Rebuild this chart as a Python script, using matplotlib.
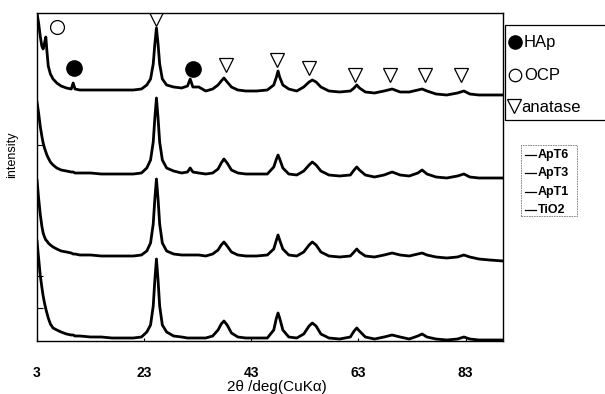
import matplotlib
matplotlib.use("Agg")
import matplotlib.pyplot as plt
from matplotlib.lines import Line2D
from matplotlib.patches import Rectangle

# 2theta grid (deg)
two_theta = [
    3.0, 3.3, 3.6, 3.9, 4.15, 4.4, 4.65, 4.85, 5.1, 5.5,
    6.0, 6.7, 7.5, 8.5, 9.4, 9.75, 10.1, 11, 13, 15,
    17, 19, 21, 22.5, 23.5, 24.2, 24.7, 25.0, 25.3, 25.6,
    25.9, 26.4, 27.2, 28.5, 30, 31.1, 31.6, 32.1, 33.2, 34.5,
    35.8, 36.8, 37.4, 37.9, 38.5, 39.3, 40.5, 42, 44, 46,
    47.2, 47.7, 48.0, 48.3, 48.9, 50, 51.5, 52.8, 53.8, 54.4,
    55.1, 56, 57.5, 59.5, 61.5, 62.2, 62.7, 63.2, 64.3, 66,
    67.8, 69.3, 70.8, 72.5, 74.1, 74.9, 75.8, 77.5, 79.5, 81.5,
    82.7, 83.8, 85.5, 87.5, 90,
]

# stacked intensities (arb. units, offsets included)
apt6 = [
    328, 318, 305, 295, 292, 298, 304, 290, 275, 267,
    262, 258, 255, 253, 252, 258, 252, 251, 251, 251,
    251, 251, 251, 252, 256, 262, 277, 297, 313, 297,
    277, 262, 256, 254, 253, 255, 262, 254, 254, 250,
    252, 256, 260, 263, 259, 254, 251, 250, 250, 251,
    256, 264, 270, 264, 256, 252, 250, 254, 259, 261,
    259, 254, 250, 249, 250, 253, 256, 253, 249, 248,
    250, 252, 249, 249, 251, 252, 250, 247, 246, 248,
    250, 247, 246, 246, 246,
]
apt3 = [
    239, 228, 215, 205, 198, 193, 189, 186, 183, 179,
    176, 173, 171, 170, 169, 169, 168, 168, 168, 167,
    167, 167, 167, 168, 173, 181, 199, 223, 243, 223,
    199, 181, 173, 170, 168, 169, 173, 169, 168, 167,
    168, 172, 178, 182, 178, 171, 168, 167, 167, 167,
    174, 182, 186, 182, 173, 167, 166, 170, 176, 179,
    176, 170, 166, 165, 166, 171, 174, 171, 166, 164,
    166, 169, 166, 165, 168, 171, 167, 164, 163, 165,
    167, 164, 163, 163, 163,
]
apt1 = [
    161, 143, 127, 115, 108, 104, 101, 100, 98, 96,
    94, 92, 90, 89, 88, 87, 87, 86, 86, 85,
    85, 85, 85, 86, 90, 98, 117, 142, 162, 142,
    117, 98, 90, 87, 86, 86, 86, 86, 86, 85,
    87, 91, 96, 99, 95, 89, 86, 85, 85, 86,
    92, 101, 106, 101, 92, 86, 85, 89, 96, 99,
    96, 89, 85, 84, 85, 89, 92, 89, 85, 84,
    86, 88, 86, 85, 87, 88, 86, 84, 83, 84,
    86, 84, 82, 81, 80,
]
tio2 = [
    100, 83, 66, 54, 45, 38, 32, 28, 23, 17,
    13, 11, 9, 7, 6, 6, 5, 5, 4, 4,
    3, 3, 3, 4, 9, 16, 35, 61, 82, 61,
    35, 16, 9, 5, 4, 3, 3, 3, 3, 3,
    5, 11, 17, 20, 16, 8, 4, 3, 3, 3,
    11, 23, 28, 23, 11, 4, 3, 7, 15, 18,
    15, 7, 3, 2, 4, 10, 13, 10, 4, 2,
    4, 6, 4, 2, 5, 7, 4, 2, 1, 2,
    4, 2, 1, 1, 1,
]
series_names = ["ApT6", "ApT3", "ApT1", "TiO2"]

# phase markers on top pattern
ocp_pos = [(6.7, 314)]
hap_pos = [(9.9, 273), (32.1, 272)]
anatase_pos = [(25.2, 322), (38.3, 276), (47.9, 281), (53.8, 273),
               (62.4, 266), (68.9, 266), (75.4, 266), (82.1, 266)]

xticks = [3, 23, 43, 63, 83]

for s in (apt6, apt3, apt1, tio2):
    assert len(s) == len(two_theta)

plt.rcParams["font.family"] = ["Liberation Sans", "DejaVu Sans"]

W, H = 605, 394
fig = plt.figure(figsize=(W / 100, H / 100), dpi=100)

def fx(px):
    return px / W

def fy(py):
    return 1 - py / H

ax = fig.add_axes([fx(37), fy(341), fx(503) - fx(37), fy(13) - fy(341)])

for s in (apt6, apt3, apt1, tio2):
    ax.plot(two_theta, s, color="black", lw=2.0, solid_joinstyle="round")

ax.plot([p[0] for p in ocp_pos], [p[1] for p in ocp_pos], "o", ms=10,
        mfc="white", mec="black", mew=0.9, ls="none")
ax.plot([p[0] for p in hap_pos], [p[1] for p in hap_pos], "o", ms=11,
        mfc="black", mec="black", ls="none")
ax.plot([p[0] for p in anatase_pos], [p[1] for p in anatase_pos], "v", ms=10,
        mfc="white", mec="black", mew=0.9, ls="none")

ax.set_xlim(3, 90)
ax.set_ylim(0, 328)
ax.set_xticks(xticks)
ax.set_xticklabels([str(t) for t in xticks], fontsize=10, fontweight="bold")
ax.tick_params(axis="x", direction="in", length=2, pad=18)
ax.set_yticks([33, 65, 196])
ax.set_yticklabels([])
ax.tick_params(axis="y", direction="in", length=4, width=0.8)
for sp in ax.spines.values():
    sp.set_linewidth(1.0)

fig.text(fx(277), fy(387), "2θ /deg(CuKα)", ha="center", va="center", fontsize=11)
fig.text(fx(12), fy(155), "intensity", ha="center", va="center",
         rotation=90, fontsize=9)

# phase legend box (runs off the right edge)
fig.add_artist(Rectangle((fx(505), fy(120)), fx(620) - fx(505), fy(25) - fy(120),
                         transform=fig.transFigure, fill=False, lw=0.9,
                         edgecolor="black"))
fig.add_artist(Line2D([fx(515)], [fy(42)], marker="o", ms=9.5, mfc="black",
                      mec="black", transform=fig.transFigure))
fig.add_artist(Line2D([fx(515)], [fy(75)], marker="o", ms=9, mfc="white",
                      mec="black", mew=0.9, transform=fig.transFigure))
fig.add_artist(Line2D([fx(514)], [fy(106)], marker="v", ms=10, mfc="white",
                      mec="black", mew=0.9, transform=fig.transFigure))
fig.text(fx(524), fy(42), "HAp", va="center", fontsize=12)
fig.text(fx(524), fy(75), "OCP", va="center", fontsize=12)
fig.text(fx(521), fy(108), "anatase", va="center", fontsize=12)

# sample legend
fig.add_artist(Rectangle((fx(521), fy(216)), fx(577) - fx(521), fy(145) - fy(216),
                         transform=fig.transFigure, fill=False, lw=0.6,
                         edgecolor="#777777", ls=(0, (2, 1))))
for i, name in enumerate(series_names):
    yy = 155 + i * 18.3
    fig.add_artist(Line2D([fx(525), fx(536)], [fy(yy), fy(yy)], color="black",
                          lw=0.9, transform=fig.transFigure))
    fig.text(fx(538), fy(yy), name, va="center", fontsize=9, fontweight="bold")

fig.savefig("out.png", dpi=100)
